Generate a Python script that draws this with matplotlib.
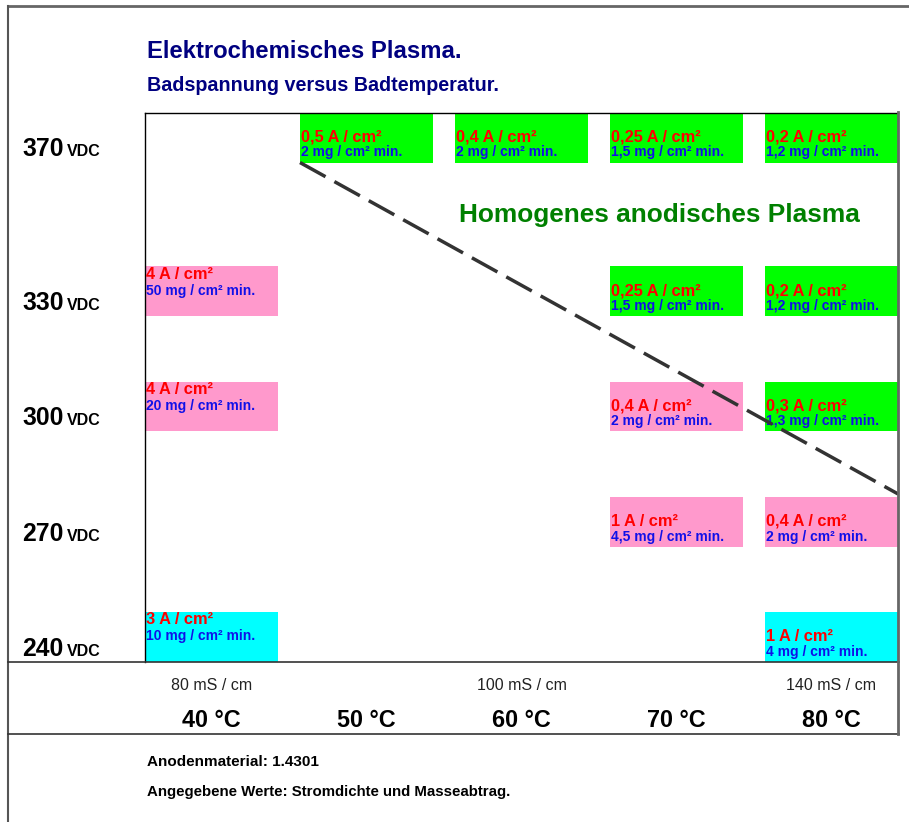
import matplotlib
matplotlib.use('Agg')
import matplotlib.pyplot as plt
from matplotlib.patches import Rectangle
from matplotlib.lines import Line2D
import matplotlib.transforms as mtransforms

plt.rcParams['font.family'] = ['Liberation Sans', 'DejaVu Sans']
plt.rcParams['lines.scale_dashes'] = False

# data
temperatures = ['40 °C', '50 °C', '60 °C', '70 °C', '80 °C']
cond_cols = [0, 2, 4]
cond_labels = ['80 mS / cm', '100 mS / cm', '140 mS / cm']
voltages = [370, 330, 300, 270, 240]

cell_col = [1, 2, 3, 4, 0, 3, 4, 0, 3, 4, 3, 4, 0, 4]
cell_volt = [370, 370, 370, 370, 330, 330, 330, 300, 300, 300, 270, 270, 240, 240]
cell_current = [0.5, 0.4, 0.25, 0.2, 4, 0.25, 0.2, 4, 0.4, 0.3, 1, 0.4, 3, 1]
cell_removal = [2, 2, 1.5, 1.2, 50, 1.5, 1.2, 20, 2, 1.3, 4.5, 2, 10, 4]
cell_kind = ['plasma', 'plasma', 'plasma', 'plasma', 'trans', 'plasma', 'plasma',
             'trans', 'trans', 'plasma', 'trans', 'trans', 'low', 'low']

boundary_x = [1.0, 4.86]
boundary_v = [370, 283.7]

kind_colors = {'plasma': '#00ff00', 'trans': '#ff99cc', 'low': '#00ffff'}

W, H = 909, 822
fig = plt.figure(figsize=(W / 100, H / 100), dpi=100)


def fx(x):
    return x / W


def fy(y):
    return 1 - y / H


def de(v):
    return f'{v:g}'.replace('.', ',')


ax = fig.add_axes([fx(145), fy(662), fx(753), 549 / H])
col_w = 155.0
ax.set_xlim(0, 753 / col_w)
ax.set_ylim(240, 240 + 549 / 3.842)
ax.set_xticks([])
ax.set_yticks([])
ax.spines['bottom'].set_visible(False)
ax.spines['right'].set_visible(False)
ax.spines['left'].set_linewidth(1.0)
ax.spines['top'].set_linewidth(1.0)

box_w = 133 / col_w
box_h = 13.0
for c, v, cur, rem, k in zip(cell_col, cell_volt, cell_current, cell_removal, cell_kind):
    ax.add_patch(Rectangle((c, v), box_w, box_h, facecolor=kind_colors[k],
                           edgecolor='none', zorder=1))
    if c == 0:
        y_red, y_blue = v + box_h - 3.2, v + box_h - 7.4
    else:
        y_red, y_blue = v + 5.5, v + 1.6
    kw = dict(fontweight='bold', ha='left', va='baseline', zorder=3, clip_on=False)
    ax.text(c + 0.006, y_red, f'{de(cur)} A / cm²', color='#ff0000', fontsize=11.8, **kw)
    ax.text(c + 0.006, y_blue, f'{de(rem)} mg / cm² min.', color='#1010e8', fontsize=10, **kw)

ax.plot(boundary_x, boundary_v, color='#333333', linewidth=2.5,
        dashes=(21, 7.3), zorder=4, clip_on=False, solid_capstyle='butt')

ax.text(3.32, 354.6, 'Homogenes anodisches Plasma', color='#008000', fontsize=18.9,
        fontweight='bold', ha='center', va='baseline')

# y labels
trans = mtransforms.blended_transform_factory(fig.transFigure, ax.transData)
for v in voltages:
    ax.text(fx(22), v + 1.6, str(v), transform=trans, fontsize=17.8, fontweight='bold',
            ha='left', va='baseline', clip_on=False)
    ax.text(fx(67), v + 1.6, 'VDC', transform=trans, fontsize=11.5, fontweight='bold',
            ha='left', va='baseline', clip_on=False)

# x labels
xtrans = mtransforms.blended_transform_factory(ax.transData, fig.transFigure)
for i, t in enumerate(temperatures):
    ax.text(i + box_w / 2, fy(727), t, transform=xtrans, fontsize=16.8, fontweight='bold',
            ha='center', va='baseline', clip_on=False)
for c, lab in zip(cond_cols, cond_labels):
    ax.text(c + box_w / 2, fy(690), lab, transform=xtrans, fontsize=11.5, color='#222222',
            ha='center', va='baseline', clip_on=False)

# titles
fig.text(fx(147), fy(58), 'Elektrochemisches Plasma.', color='#000080', fontsize=17.2,
         fontweight='bold', va='baseline')
fig.text(fx(147), fy(91), 'Badspannung versus Badtemperatur.', color='#000080',
         fontsize=14.2, fontweight='bold', va='baseline')
fig.text(fx(147), fy(766), 'Anodenmaterial: 1.4301', fontsize=11, fontweight='bold',
         va='baseline')
fig.text(fx(147), fy(796), 'Angegebene Werte: Stromdichte und Masseabtrag.', fontsize=10.8,
         fontweight='bold', va='baseline')

# frame lines
frame = [((8, 909), (6.5, 6.5), '#666666', 2.0),
         ((8, 8), (6.5, 822), '#555555', 1.5),
         ((8, 899), (662, 662), '#333333', 1.2),
         ((8, 899), (734, 734), '#333333', 1.2),
         ((898, 898), (112, 734), '#666666', 2.0)]
for xs, ys, col, lw in frame:
    fig.add_artist(Line2D([fx(x) for x in xs], [fy(y) for y in ys], color=col,
                          linewidth=lw, transform=fig.transFigure))

fig.savefig('out.png', dpi=100)
plt.close(fig)
